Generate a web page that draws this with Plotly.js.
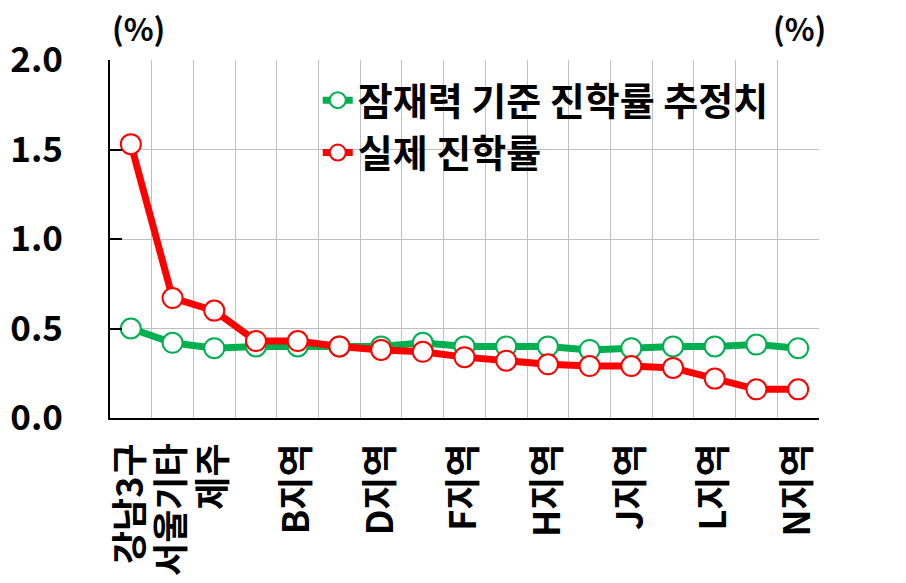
<!DOCTYPE html>
<html>
<head>
<meta charset="utf-8">
<script src="https://cdn.plot.ly/plotly-3.0.1.min.js"></script>
<style>html,body{margin:0;padding:0;background:#fff;}#chart{width:906px;height:583px;}</style>
</head>
<body>
<div id="chart"></div>
<script>
var categories = ["강남3구","서울기타","제주","A지역","B지역","C지역","D지역","E지역","F지역","G지역","H지역","I지역","J지역","K지역","L지역","M지역","N지역"];
var tickLabels = ["강남3구","서울기타","제주","","B지역","","D지역","","F지역","","H지역","","J지역","","L지역","","N지역"];
var potentialRate = [0.50,0.42,0.39,0.40,0.40,0.40,0.40,0.42,0.40,0.40,0.40,0.38,0.39,0.40,0.40,0.41,0.39];
var actualRate = [1.53,0.67,0.60,0.43,0.43,0.40,0.38,0.37,0.34,0.32,0.30,0.29,0.29,0.28,0.22,0.16,0.16];
var seriesNames = ["잠재력 기준 진학률 추정치","실제 진학률"];
var yTicks = [0, 0.5, 1.0, 1.5, 2.0];
var yTickText = ["0.0","0.5","1.0","1.5","2.0"];

var FONT = "Noto Sans CJK KR, Noto Sans, sans-serif";
var green = "#00B050", red = "#FF0000";

var traces = [
  {x: categories, y: potentialRate, name: seriesNames[0], type: "scatter", mode: "lines+markers",
   line: {color: green, width: 7}, marker: {size: 20, color: "#fff", line: {color: green, width: 2}},
   legendgroup: "g1", cliponaxis: false},
  {x: categories, y: actualRate, name: seriesNames[1], type: "scatter", mode: "lines+markers",
   line: {color: red, width: 7}, marker: {size: 20, color: "#fff", line: {color: red, width: 2}},
   legendgroup: "g2", cliponaxis: false}
];

var layout = {
  width: 906, height: 583,
  margin: {l: 110, r: 87, t: 60, b: 165},
  paper_bgcolor: "#fff", plot_bgcolor: "#fff",
  font: {family: FONT, color: "#000", size: 30, weight: "bold"},
  showlegend: true,
  legend: {x: 0.293, y: 0.975, xanchor: "left", yanchor: "top", bgcolor: "rgba(0,0,0,0)",
           font: {family: FONT, size: 38, color: "#000", weight: "bold"},
           traceorder: "grouped", tracegroupgap: 0},
  xaxis: {type: "category", tickvals: categories, ticktext: tickLabels, tickangle: -90,
          tickson: "boundaries", showgrid: true, gridcolor: "#BFBFBF", gridwidth: 1,
          showline: true, linecolor: "#000", linewidth: 2, ticks: "", ticklabelstandoff: 9,
          range: [-0.5, 16.5], zeroline: false,
          tickfont: {family: FONT, size: 36, color: "#000", weight: "bold"}},
  yaxis: {range: [0, 2.0], tickvals: yTicks, ticktext: yTickText, showgrid: true, gridcolor: "#BFBFBF",
          gridwidth: 1, showline: true, linecolor: "#000", linewidth: 2, ticks: "inside", ticklen: 12,
          tickwidth: 2, tickcolor: "#000", zeroline: false, ticklabelstandoff: 38,
          tickfont: {family: FONT, size: 35, color: "#000", weight: "bold"}},
  yaxis2: {range: [0, 2.0], tickvals: yTicks, ticktext: yTickText, overlaying: "y", side: "right",
           showgrid: false, showline: true, linecolor: "#000", linewidth: 2, ticks: "inside", ticklen: 12,
           tickwidth: 2, tickcolor: "#000", zeroline: false, ticklabelstandoff: 31,
           tickfont: {family: FONT, size: 35, color: "#000", weight: "bold"}},
  annotations: [
    {text: "(%)", xref: "paper", yref: "paper", x: (138-110)/709, y: 1, yshift: 33, showarrow: false,
     xanchor: "center", yanchor: "middle", font: {family: FONT, size: 31, color: "#000", weight: "bold"}},
    {text: "(%)", xref: "paper", yref: "paper", x: (799-110)/709, y: 1, yshift: 33, showarrow: false,
     xanchor: "center", yanchor: "middle", font: {family: FONT, size: 31, color: "#000", weight: "bold"}}
  ]
};

Plotly.newPlot("chart", traces, layout, {displayModeBar: false, staticPlot: true});
</script>
</body>
</html>
